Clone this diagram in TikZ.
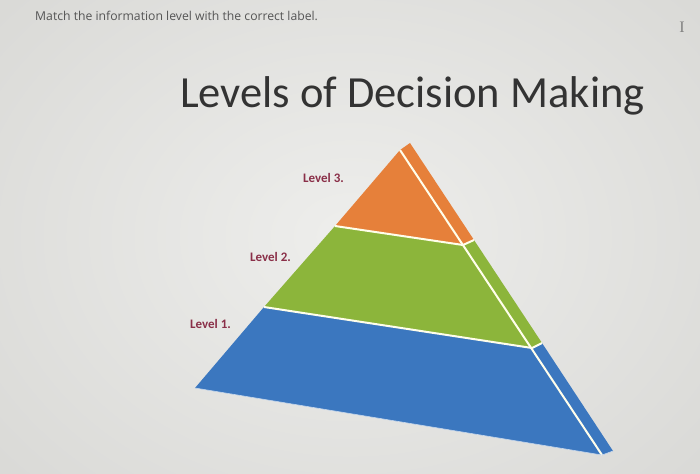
\documentclass[tikz,border=0pt]{standalone}
\usepackage{fontspec}
\setmainfont{Carlito}
\newfontfamily\topfont{Open Sans}
\newfontfamily\serifI{Liberation Serif}
\definecolor{bgin}{HTML}{EEEEEC}
\definecolor{bgout}{HTML}{D8D8D5}
\definecolor{porange}{HTML}{E6803A}
\definecolor{pgreen}{HTML}{8CB53B}
\definecolor{pblue}{HTML}{3B77BF}
\definecolor{lblcol}{HTML}{8A2F48}
\definecolor{toptxt}{HTML}{555555}
\tikzset{
  sep/.style={draw=white!92!yellow, line width=2pt, line join=round},
  lbl/.style={font=\bfseries\fontsize{13}{15}\selectfont, text=lblcol, inner sep=0pt, anchor=base west},
}
\begin{document}
\begin{tikzpicture}[x=1pt,y=-1pt]
\useasboundingbox (0,0) rectangle (700,473);
\shade[inner color=bgin, outer color=bgout] (-150,-150) rectangle (850,623);
% text
\node[inner sep=0pt, anchor=base west, text=toptxt, font=\topfont\fontsize{12.2}{14}\selectfont] (instr) at (35,21) {Match the information level with the correct label.};
\node[inner sep=0pt, anchor=base, text=gray, font=\serifI\fontsize{16}{18}\selectfont] (cursor) at (682,33) {I};
\node[inner sep=0pt, anchor=base west, text=black!80, font=\fontsize{44.5}{48}\selectfont] (title) at (180,108) {Levels of Decision Making};
% pyramid coordinates
\coordinate (A) at (400,150);
\coordinate (Bk) at (410,143);
\coordinate (L1) at (335,226);
\coordinate (R1) at (463,245);
\coordinate (S1) at (474,240);
\coordinate (L2) at (264,307);
\coordinate (R2) at (532,348);
\coordinate (S2) at (542,343);
\coordinate (BL) at (195,388);
\coordinate (BR) at (602,455);
\coordinate (SB) at (613,451);
\fill[porange] (A) -- (Bk) -- (S1) -- (R1) -- (L1) -- cycle;
\fill[pgreen] (L1) -- (R1) -- (S1) -- (S2) -- (R2) -- (L2) -- cycle;
\fill[pblue] (L2) -- (R2) -- (S2) -- (SB) -- (BR) -- (BL) -- cycle;
\draw[sep] (L1) -- (R1) -- (S1);
\draw[sep] (L2) -- (R2) -- (S2);
\draw[sep] (A) -- (BR);
\draw[draw=white!70!pblue, line width=0.6pt] (BL) -- (BR) -- (SB);
% labels
\node[lbl] (lv3) at (303,182) {Level 3.};
\node[lbl] (lv2) at (250,261) {Level 2.};
\node[lbl] (lv1) at (190,328) {Level 1.};
\end{tikzpicture}
\end{document}
